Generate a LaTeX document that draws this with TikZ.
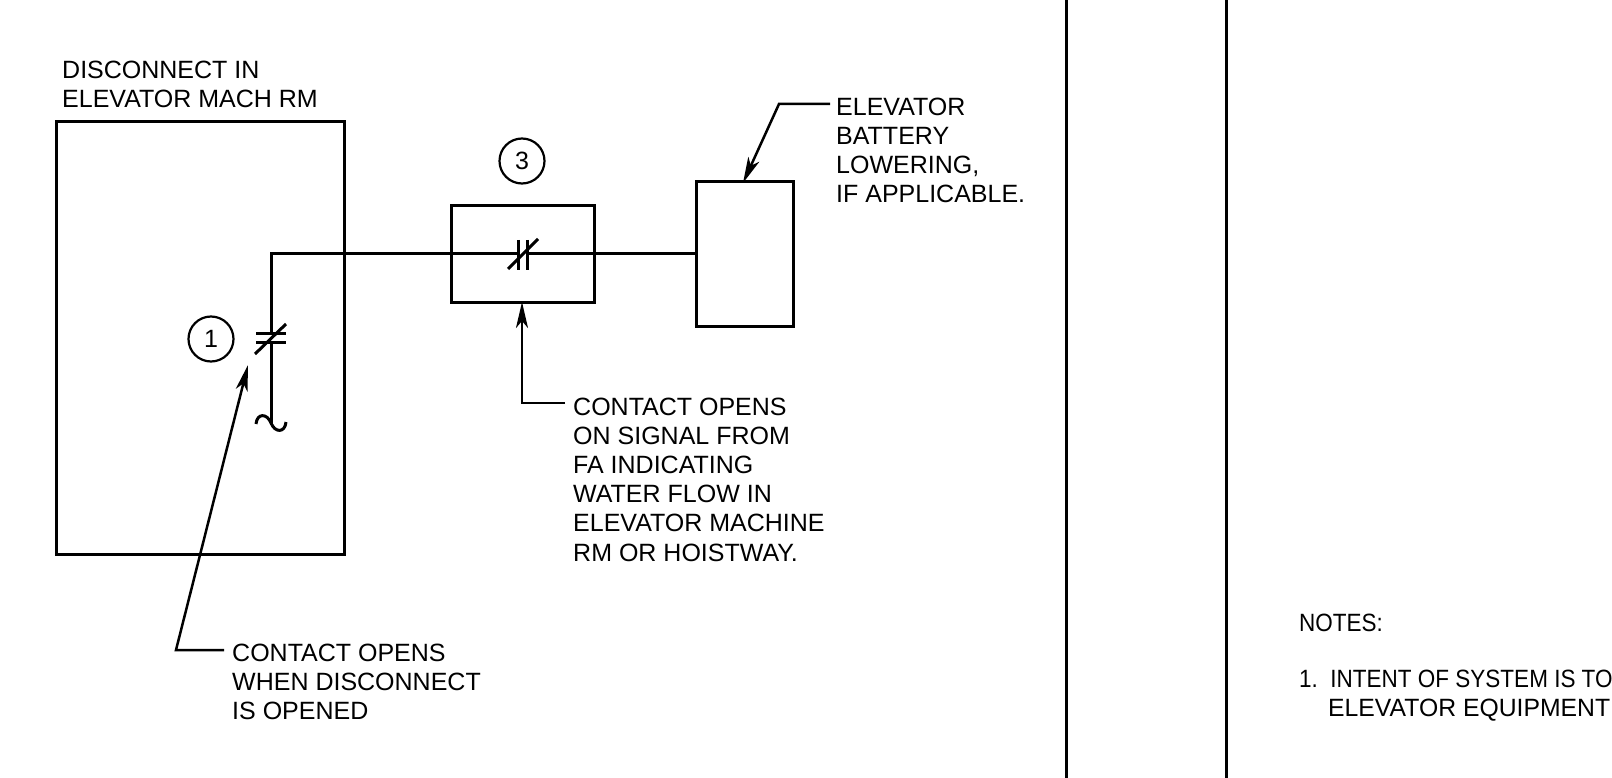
\documentclass[tikz,border=0pt]{standalone}
\usepackage{fontspec}
\setmainfont{Liberation Sans}
\usetikzlibrary{arrows.meta}
\begin{document}
\begin{tikzpicture}[x=1pt,y=-1pt,
  wire/.style={line width=3pt},
  boxline/.style={line width=3pt},
  lead/.style={line width=2.5pt},
  arr/.style={lead,-{Stealth[length=26pt,width=12pt,inset=7pt]}},
  lbl/.style={inner sep=0pt,align=left,anchor=north west,font=\fontsize{25}{29.2}\selectfont},
  bubble/.style={circle,draw,line width=2.2pt,minimum size=45pt,inner sep=0pt,font=\fontsize{25}{29}\selectfont}]
\useasboundingbox (0,0) rectangle (1612,778);
% separators
\draw[line width=3pt] (1066,0) -- (1066,778);
\draw[line width=3pt] (1226,0) -- (1226,778);
% boxes
\draw[boxline] (56,122) rectangle (344,554);
\draw[boxline] (451,206) rectangle (594,302);
\draw[boxline] (696,182) rectangle (793,326);
\coordinate (b3bot) at (522,302);
\coordinate (b4top) at (743,183);
% labels
\node[lbl] (tdis) at (62,61) {DISCONNECT IN\\ELEVATOR MACH RM};
\node[lbl] (tc1) at (232,643.5) {CONTACT OPENS\\WHEN DISCONNECT\\IS OPENED};
\node[lbl] (tc3) at (573,397.5) {CONTACT OPENS\\ON SIGNAL FROM\\FA INDICATING\\WATER FLOW IN\\ELEVATOR MACHINE\\RM OR HOISTWAY.};
\node[lbl] (tbat) at (836,97.5) {ELEVATOR\\BATTERY\\LOWERING,\\IF APPLICABLE.};
\node[lbl,anchor=base west] (tnotes) at (1299,631) {\scalebox{0.9}[1]{NOTES:}};
\node[lbl,anchor=base west] (tn1) at (1299,687) {\scalebox{0.9}[1]{1.\ \ INTENT OF SYSTEM IS TO}};
\node[lbl,anchor=base west] (tn2) at (1328,716) {\scalebox{0.99}[1]{ELEVATOR EQUIPMENT}};
% bubbles
\node[bubble] (c1) at (211,339) {1};
\node[bubble] (c3) at (522,161) {3};
% wiring
\coordinate (k1top) at (271,333);
\coordinate (k1bot) at (271,342);
\coordinate (k3l) at (518,254);
\coordinate (k3r) at (527,254);
\coordinate (corner) at (271,254);
\coordinate (tilde) at (271,423);
\draw[wire] (k1top) -- (corner) -- (k3l);
\draw[wire] (k3r) -- (696,254);
\draw[wire] (k1bot) -- (tilde);
\draw[wire] (256,424) .. controls (257,413) and (267,413) .. (tilde) .. controls (275,433) and (285,433) .. (286,422);
% contact 1
\draw[wire] (256,333) -- (286,333);
\draw[wire] (256,342) -- (286,342);
\draw[wire] (255,354) -- (286,324);
% contact 3
\draw[wire] (518,240) -- (518,270);
\draw[wire] (527,240) -- (527,270);
\draw[wire] (508,269) -- (538,239);
% leaders
\coordinate (l1a) at (224,650);
\coordinate (l1b) at (176,650);
\draw[arr] (l1a) -- (l1b) -- (248,365);
\coordinate (l3a) at (565,403);
\coordinate (l3b) at (522,403);
\draw[arr] (l3a) -- (l3b) -- (b3bot);
\coordinate (l4a) at (830,104);
\coordinate (l4b) at (779,104);
\draw[arr] (l4a) -- (l4b) -- (b4top);
\end{tikzpicture}
\end{document}
